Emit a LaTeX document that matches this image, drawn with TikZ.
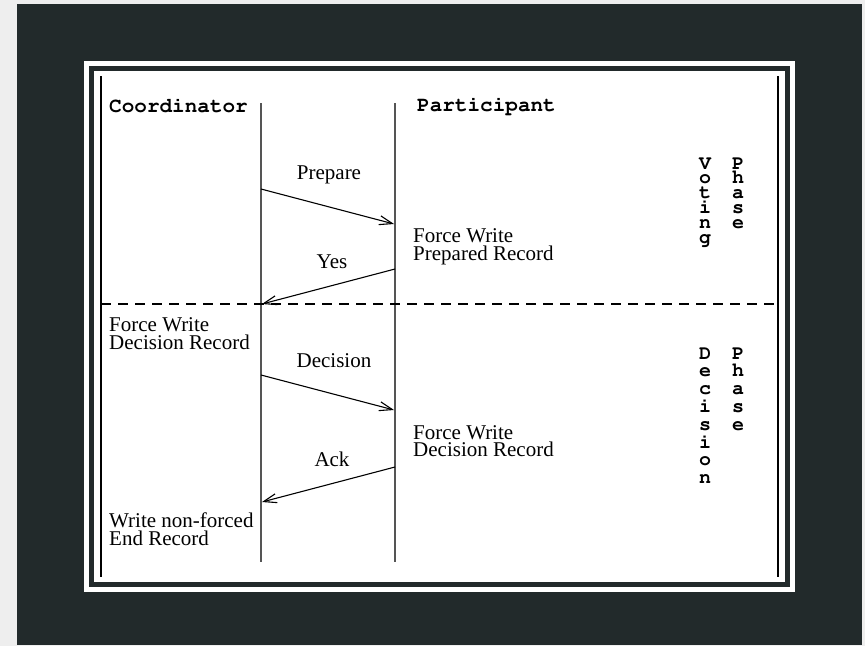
\documentclass[tikz,border=0pt]{standalone}
\usepackage{fontspec}
\setmainfont{Liberation Serif}
\newcommand{\courbold}{\fontencoding{T1}\fontfamily{pcr}\fontseries{b}\selectfont}
\usetikzlibrary{arrows.meta}
\definecolor{bgdark}{HTML}{222A2B}
\definecolor{bglight}{HTML}{EEEEEE}
\definecolor{lifegray}{HTML}{555555}
\begin{document}
\begin{tikzpicture}[x=1pt,y=-1pt,
  lbl/.style={inner sep=0pt, anchor=base west, font=\fontsize{21}{18}\selectfont},
  msg/.style={inner sep=0pt, anchor=base, font=\fontsize{21}{18}\selectfont},
  hdr/.style={inner sep=0pt, anchor=base west, font=\courbold\fontsize{21}{18}\selectfont},
  vlet/.style={inner sep=0pt, anchor=base, font=\courbold\fontsize{20}{16}\selectfont},
  lifeline/.style={draw=lifegray, line width=1.6pt},
  frameline/.style={draw=black, line width=2.2pt},
  arr/.style={draw=black, line width=1.1pt, -{Straight Barb[length=13pt,width=9pt,line width=1.1pt]}},
  phase/.style={draw=black, line width=1.1pt, dash pattern=on 10pt off 7pt}]
\useasboundingbox (0,0) rectangle (865,646);
% background and frame
\fill[bglight] (0,0) rectangle (865,646);
\fill[bgdark] (17,4) rectangle (862,645);
\fill[white] (84,61) rectangle (795,592);
\fill[bgdark] (89,66) rectangle (790,587);
\fill[white] (94,71) rectangle (785,582);
\draw[frameline] (101,76) -- (101,577);
\draw[frameline] (778,76) -- (778,577);
% lifelines
\coordinate (cTop) at (261,103);
\coordinate (cBot) at (261,562);
\coordinate (pTop) at (395,103);
\coordinate (pBot) at (395,562);
\draw[lifeline] (cTop) -- (cBot);
\draw[lifeline] (pTop) -- (pBot);
% headers
\node[hdr] (coord) at (109,112) {Coordinator};
\node[hdr] (part) at (417,111) {Participant};
% phase separator
\coordinate (dL) at (101,304);
\coordinate (dR) at (778,304);
\draw[phase] (dL) -- (dR);
% message end points
\coordinate (c1) at (261,189); \coordinate (p1) at (394,224);
\coordinate (p2) at (395,269); \coordinate (c2) at (262,304);
\coordinate (c3) at (261,375); \coordinate (p3) at (394,410);
\coordinate (p4) at (395,467); \coordinate (c4) at (262,502);
\draw[arr] (c1) -- (p1);
\draw[arr] (p2) -- (c2);
\draw[arr] (c3) -- (p3);
\draw[arr] (p4) -- (c4);
% message labels
\node[msg] (prep) at (329,179) {Prepare};
\node[msg] (yes) at (332,268) {Yes};
\node[msg] (dec) at (334,367) {Decision};
\node[msg] (ack) at (332,466) {Ack};
% log records
\node[lbl] (fwp1) at (413,242) {Force Write};
\node[lbl] (fwp2) at (413,260) {Prepared Record};
\node[lbl] (fwc1) at (109,331) {Force Write};
\node[lbl] (fwc2) at (109,349) {Decision Record};
\node[lbl] (fwd1) at (413,439) {Force Write};
\node[lbl] (fwd2) at (413,456) {Decision Record};
\node[lbl] (wne1) at (109,527) {Write non-forced};
\node[lbl] (wne2) at (109,545) {End Record};
% vertical phase names
\foreach \ch [count=\i from 0] in {V,o,t,i,n,g}
  \node[vlet] (vot\i) at (705,{169+14.8*\i}) {\ch};
\foreach \ch [count=\i from 0] in {P,h,a,s,e}
  \node[vlet] (vph\i) at (738,{169+14.8*\i}) {\ch};
\foreach \ch [count=\i from 0] in {D,e,c,i,s,i,o,n}
  \node[vlet] (dec\i) at (705,{359+17.8*\i}) {\ch};
\foreach \ch [count=\i from 0] in {P,h,a,s,e}
  \node[vlet] (dph\i) at (738,{359+17.8*\i}) {\ch};
\end{tikzpicture}
\end{document}
